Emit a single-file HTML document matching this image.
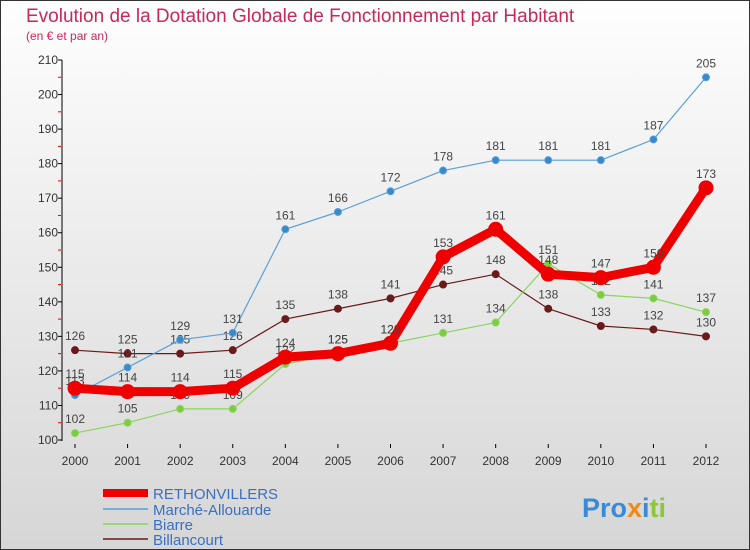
<!DOCTYPE html>
<html><head><meta charset="utf-8"><style>
body{margin:0;width:750px;height:550px;overflow:hidden;font-family:"Liberation Sans",sans-serif}
#frame{position:absolute;left:0;top:0;width:748px;height:548px;border:1px solid #333;background:linear-gradient(#fefefe,#d6d6d6)}
</style></head><body>
<div id="frame"></div>
<svg id="chart" width="750" height="550" style="position:absolute;left:0;top:0" font-family="Liberation Sans, sans-serif">
<text x="26" y="22" font-size="19" fill="#c8285a">Evolution de la Dotation Globale de Fonctionnement par Habitant</text>
<text x="26" y="40" font-size="12" fill="#c8285a">(en € et par an)</text>
<g id="axes"></g><g id="series"></g>
<g>
<line x1="103" y1="493" x2="148" y2="493" stroke="#e00" stroke-width="8"/>
<text x="153" y="499" font-size="15" fill="#3a6fc4">RETHONVILLERS</text>
<line x1="103" y1="509" x2="148" y2="509" stroke="#5aa0d8" stroke-width="1.5"/>
<text x="153" y="515" font-size="15" fill="#3a6fc4">Marché-Allouarde</text>
<line x1="103" y1="524" x2="148" y2="524" stroke="#8ad460" stroke-width="1.5"/>
<text x="153" y="530" font-size="15" fill="#3a6fc4">Biarre</text>
<line x1="103" y1="539" x2="148" y2="539" stroke="#6a1a1a" stroke-width="1.5"/>
<text x="153" y="545" font-size="15" fill="#3a6fc4">Billancourt</text>
</g>
<text x="582" y="517" font-size="27" font-weight="bold"><tspan fill="#3a8ad8">Pro</tspan><tspan fill="#f08a10">x</tspan><tspan fill="#3a8ad8">i</tspan><tspan fill="#8ac83a">ti</tspan></text>
</svg>
<script>
const years=[2000,2001,2002,2003,2004,2005,2006,2007,2008,2009,2010,2011,2012];
const rethonvillers=[115,114,114,115,124,125,128,153,161,148,147,150,173];
const marche=[113,121,129,131,161,166,172,178,181,181,181,187,205];
const biarre=[102,105,109,109,122,125,128,131,134,151,142,141,137];
const billancourt=[126,125,125,126,135,138,141,145,148,138,133,132,130];
const yTicks=[100,110,120,130,140,150,160,170,180,190,200,210];
const NS="http://www.w3.org/2000/svg";
const X=i=>75+i*(706-75)/12;
const Y=v=>440-(v-100)*(380/110);
function mk(tag,attrs,parent){const e=document.createElementNS(NS,tag);for(const k in attrs)e.setAttribute(k,attrs[k]);parent.appendChild(e);return e;}
const ax=document.getElementById('axes'),sr=document.getElementById('series');
let l=mk('line',{x1:62,y1:60,x2:62,y2:441,stroke:'#000'},ax);


yTicks.forEach(v=>{
  let t=mk('text',{x:58,y:Y(v)+4,'font-size':12,fill:'#333','text-anchor':'end'},ax);t.textContent=v;
  
  
  mk('line',{x1:58,y1:Y(v),x2:62,y2:Y(v),stroke:'#000'},ax);
  if(v<210)mk('line',{x1:58,y1:Y(v+5),x2:61,y2:Y(v+5),stroke:'#e00'},ax);
});
years.forEach((y,i)=>{
  mk('line',{x1:X(i),y1:444,x2:X(i),y2:448,stroke:'#000'},ax);
  let t=mk('text',{x:X(i),y:465,'font-size':12,fill:'#333','text-anchor':'middle'},ax);t.textContent=y;
  
  
});
function draw(vals,color,w,r,name,dotColor){
  const g=mk('g',{},sr);
  
  
  mk('polyline',{points:vals.map((v,i)=>X(i)+','+Y(v)).join(' '),fill:'none',stroke:color,'stroke-width':w,'stroke-linejoin':'round'},g);
  vals.forEach((v,i)=>{
    const c=mk('circle',{cx:X(i),cy:Y(v),r:r,fill:dotColor,stroke:color,'stroke-width':1},g);
    
    
    const t=mk('text',{x:X(i),y:Y(v)-10,'font-size':12,fill:'#444','text-anchor':'middle'},g);t.textContent=v;
    
    
  });
}
draw(billancourt,'#6a1a1a',1.2,3.5,'billancourt','#6a1a1a');
draw(biarre,'#8ad460',1.2,3.5,'biarre','#7ccc40');
draw(marche,'#5aa0d8',1.2,3.5,'marche-allouarde','#3a88cc');
draw(rethonvillers,'#ee0000',9,7,'rethonvillers','#ee0000');
</script>
</body></html>
